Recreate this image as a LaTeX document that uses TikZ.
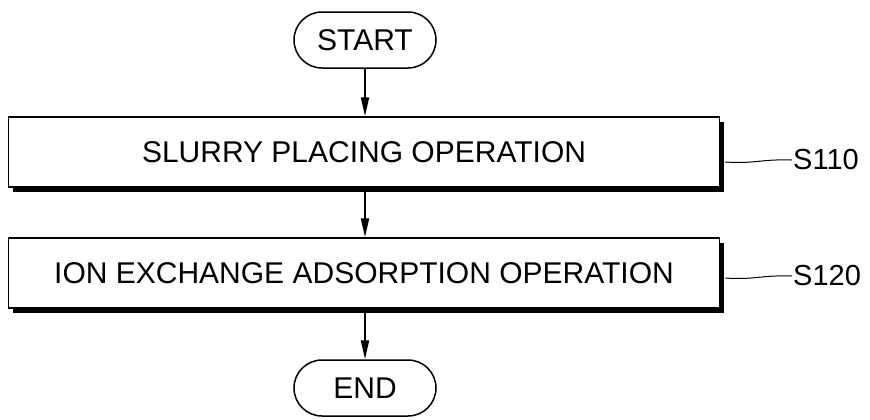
\documentclass[tikz,border=0pt]{standalone}
\usepackage{fontspec}
\setmainfont{Liberation Sans}
\usetikzlibrary{arrows.meta,shapes.misc,shadows,calc}
\tikzset{
  term/.style={rounded rectangle, draw, line width=1.5bp, minimum width=142bp, minimum height=56bp, inner sep=0pt, font=\fontsize{30bp}{36bp}\selectfont},
  opbox/.style={rectangle, draw, fill=white, line width=1.5bp, minimum width=711bp, minimum height=70bp, inner sep=0pt,
    font=\fontsize{30bp}{36bp}\selectfont,
    drop shadow={shadow xshift=4.5bp, shadow yshift=-4.5bp, fill=black, opacity=1}},
  steplab/.style={anchor=west, inner sep=1bp, font=\fontsize{29bp}{35bp}\selectfont},
  flow/.style={line width=2bp, -{Triangle[length=19bp,width=8bp]}},
  wave/.style={line width=1bp}
}
\begin{document}
\begin{tikzpicture}[x=1bp,y=-1bp]
\useasboundingbox (0,0) rectangle (870,419);
\node[term] (start) at (365,40) {START};
\node[opbox] (b1) at (364,152) {SLURRY PLACING OPERATION};
\node[opbox] (b2) at (364,273) {ION EXCHANGE ADSORPTION OPERATION};
\node[term] (end) at (365,388) {END};
\node[steplab] (l1) at (792,160) {S110};
\node[steplab] (l2) at (792,276) {S120};
\draw[flow] (start.south) -- (start.south |- b1.north);
\draw[flow] (b1.south -| start.south) -- (start.south |- b2.north);
\draw[flow] (b2.south -| start.south) -- (end.north);
\coordinate (w1) at ($(b1.east |- l1.west)+(5,2)$);
\coordinate (w2) at ($(b2.east |- l2.west)+(5,2)$);
\draw[wave] (w1) .. controls ($(w1)+(30,2)$) and ($(l1.west)+(-32,-1)$) .. (l1.west);
\draw[wave] (w2) .. controls ($(w2)+(30,2)$) and ($(l2.west)+(-32,-1)$) .. (l2.west);
\end{tikzpicture}
\end{document}
